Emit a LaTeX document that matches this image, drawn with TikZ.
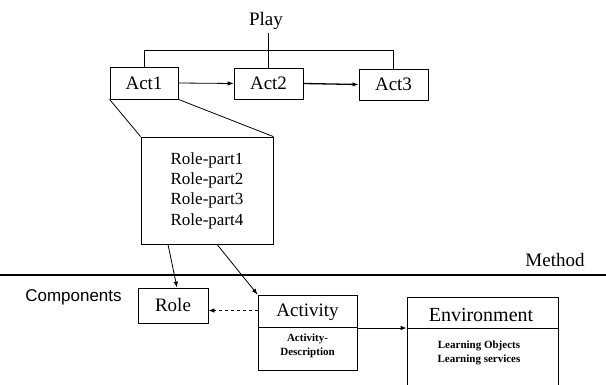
\documentclass[tikz,border=0pt]{standalone}
\usepackage{fontspec}
\setmainfont{Liberation Serif}
\newfontfamily\labelsans{Liberation Sans}
\usetikzlibrary{arrows.meta}

\tikzset{
  box/.style={draw, line width=0.8pt, rectangle, inner sep=0pt},
  txt/.style={inner sep=0pt, align=center},
  conn/.style={line width=0.8pt},
  tip/.style={-{Latex[length=6pt,width=4.5pt]}},
  big/.style={font=\fontsize{19}{22}\selectfont},
  mid/.style={font=\fontsize{17}{20.3}\selectfont},
  small/.style={font=\fontsize{11}{13.5}\selectfont\bfseries},
}

\begin{document}
\begin{tikzpicture}[x=1pt, y=-1pt]
  \useasboundingbox (0,0) rectangle (606,385);

  % ---- method level: play and its acts
  \node[txt, big] (play) at (266,21) {Play};
  \node[box, big, minimum width=68pt, minimum height=32pt] (act1) at (144,83) {Act1};
  \node[box, big, minimum width=69pt, minimum height=31pt] (act2) at (268.5,83.5) {Act2};
  \node[box, big, minimum width=69pt, minimum height=31pt] (act3) at (393.5,84.5) {Act3};

  \draw[conn] (act2.north) -- ++(0,-35);
  \draw[conn] (act1.north) -- ++(0,-16) -| (act3.north);
  \draw[conn, tip] (act1.east) -- (act2.west);
  \draw[line width=1.3pt, tip] (act2.east) -- (act3.west);

  % ---- role parts of the first act
  \node[box, mid, minimum width=132pt, minimum height=107pt, align=center]
    (rp) at (207,190.5) {Role-part1\\Role-part2\\Role-part3\\Role-part4};
  \draw[conn] (act1.south west) -- (rp.north west);
  \draw[conn] (act1.south east) -- (rp.north east);

  % ---- separator between method and components
  \coordinate (sepL) at (0,275);
  \coordinate (sepR) at (606,275);
  \draw[line width=2.6pt] (sepL) -- (sepR);
  \node[txt, big] (method) at (555,260) {Method};
  \node[txt, font=\labelsans\fontsize{17}{20}\selectfont] (comp) at (73.5,297) {Components};

  % ---- components
  \node[box, minimum width=70pt, minimum height=35pt] (role) at (173,305.5) {};
  \node[txt, big] (roletxt) at (role.center) {Role};

  \node[box, minimum width=99pt, minimum height=75pt] (act) at (307.5,332.5) {};
  \node[txt, big] (acttxt) at (307.5,312) {Activity};
  \draw[conn] (act.west |- 0,327) -- (act.east |- 0,327);
  \node[txt, small] (actdesc) at (307.5,346) {Activity-\\Description};

  \node[box, minimum width=151pt, minimum height=93pt] (env) at (482.5,343.5) {};
  \node[txt, font=\fontsize{20}{24}\selectfont] (envtxt) at (481,315) {Environment};
  \draw[conn] (env.west |- 0,328) -- (env.east |- 0,328);
  \node[txt, small] (envdesc) at (479,353) {Learning Objects\\Learning services};

  % ---- connectors between the levels
  \draw[conn, tip] ([xshift=-39pt]rp.south) -- ([xshift=4pt]role.north);
  \draw[conn, tip] ([xshift=10pt]rp.south) -- (act.north west);
  \coordinate (dashend) at ([yshift=-5pt]role.east);
  \draw[conn, dashed, tip] (act.west |- dashend) -- (dashend);
  \draw[conn, tip] (act.east |- 0,328) -- (env.west |- 0,328);
\end{tikzpicture}
\end{document}
